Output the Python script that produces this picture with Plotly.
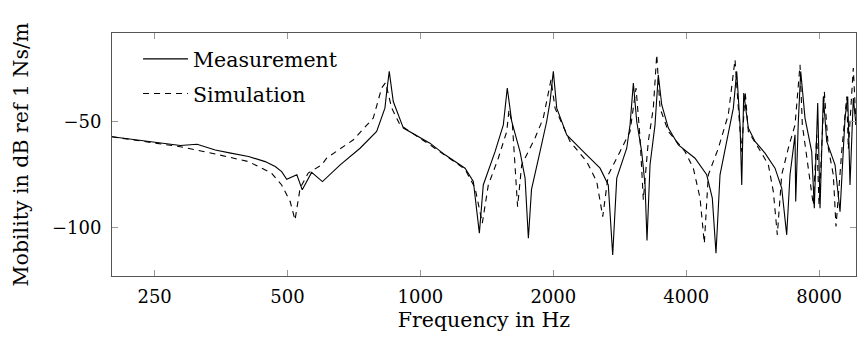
import plotly.graph_objects as go
import math

# Measurement (frequency in Hz, mobility in dB)
meas_f = [200, 232, 286, 312, 343, 372, 408, 445, 469, 485, 498, 525, 540, 567, 600, 658, 730, 796, 831, 839, 850,
          868, 915, 1051, 1137, 1262, 1318, 1360, 1388, 1476, 1541, 1573, 1610, 1681, 1726, 1756,
          1785, 1866, 1932, 1966, 2000, 2036, 2145, 2339, 2552, 2664, 2726, 2784, 2933, 2984, 3036, 3090,
          3171, 3227, 3260, 3312, 3399, 3458, 3520, 3644, 3839, 4188, 4451, 4583, 4672, 4771, 4941,
          5114, 5205, 5296, 5343, 5399, 5530, 5727, 6033, 6356, 6582, 6755, 6873, 6993, 7055, 7080,
          7177, 7267, 7432, 7696, 7801, 7941, 8037, 8177, 8323, 8691, 8921, 9156, 9286, 9398, 9561, 9696]
meas_db = [-57.2, -58.9, -61.3, -60.7, -63.4, -64.9, -66.5, -68.9, -71.2, -73.6, -77.2, -75.1, -82.2, -74.0, -78.3,
           -70.4, -62.6, -54.7, -43.7, -35.8, -26.4, -40.6, -53.1, -60.2, -65.7, -72.0, -78.3, -102.6, -79.9,
           -64.2, -51.6, -34.2, -50.0, -64.2, -76.7, -105.0, -82.0, -64.2, -50.0, -40.6, -26.4, -43.7, -56.3,
           -64.2, -72.0, -79.9, -112.9, -76.7, -62.6, -51.6, -31.9, -50.0, -64.2, -79.9, -106.1, -70.4,
           -51.6, -28.0, -42.1, -53.1, -61.0, -67.3, -75.1, -86.1, -112.1, -75.1, -59.4, -43.7, -26.4,
           -51.6, -79.9, -36.6, -53.1, -59.4, -64.9, -72.0, -81.4, -103.4, -75.1, -61.0, -56.3, -87.7,
           -50.0, -26.4, -48.4, -64.2, -90.9, -41.3, -90.9, -38.2, -59.4, -70.4, -92.5, -48.4, -38.2,
           -79.9, -39.0, -51.6]

# Simulation
sim_f = [200, 286, 343, 408, 460, 485, 507, 520, 534, 557, 598, 613, 705, 782, 817, 834, 861, 899,
         1051, 1137, 1262, 1330, 1381, 1425, 1501, 1569, 1587, 1616, 1638, 1660, 1696, 1818, 1898,
         1948, 1976, 2018, 2182, 2381, 2508, 2588, 2664, 2832, 2984, 3079, 3144, 3198, 3282, 3369,
         3430, 3489, 3644, 3976, 4151, 4299, 4396, 4489, 4729, 4982, 5159, 5249, 5343, 5439, 5530,
         5838, 6139, 6300, 6433, 6582, 6812, 7055, 7241, 7329, 7761, 7900, 7996, 8219, 8393, 8614,
         8736, 9000, 9239, 9316, 9561, 9696]
sim_db = [-57.2, -61.9, -65.3, -68.9, -74.3, -79.9, -87.7, -96.4, -81.4, -74.3, -70.4, -67.3, -58.6,
          -48.4, -34.2, -31.7, -43.7, -51.6, -61.0, -66.0, -72.5, -81.4, -97.9, -79.9, -67.3, -54.7,
          -44.5, -51.6, -70.4, -90.1, -70.4, -57.8, -48.4, -35.8, -30.3, -43.7, -59.4, -68.9, -78.3,
          -94.8, -75.1, -64.2, -54.7, -34.2, -57.8, -86.9, -59.4, -43.7, -18.5, -43.7, -54.7, -64.2,
          -72.0, -86.1, -107.4, -75.1, -62.6, -46.8, -20.9, -43.7, -64.2, -35.8, -54.7, -62.6, -70.4,
          -83.0, -103.4, -75.1, -62.6, -51.6, -23.3, -51.6, -89.3, -56.3, -89.3, -35.8, -62.6, -75.1,
          -99.5, -64.2, -38.2, -63.0, -24.8, -51.6]

x_ticks = [250, 500, 1000, 2000, 4000, 8000]
y_ticks = [-50, -100]

FONT = "DejaVu Serif"

fig = go.Figure()
fig.add_trace(go.Scatter(x=meas_f, y=meas_db, mode="lines", name="Measurement", legendgroup="a",
                         line=dict(color="black", width=1.1)))
fig.add_trace(go.Scatter(x=sim_f, y=sim_db, mode="lines", name="Simulation", legendgroup="b",
                         line=dict(color="black", width=1.1, dash="6px,5px")))

axis_common = dict(showline=True, linecolor="#555555", linewidth=1, mirror="ticks",
                   ticks="inside", ticklen=6, tickcolor="#999999", showgrid=False,
                   zeroline=False, tickfont=dict(family=FONT, size=18, color="black"))

fig.update_xaxes(type="log", range=[math.log10(200.2), math.log10(9696)],
                 tickvals=x_ticks, ticktext=[str(v) for v in x_ticks],
                 title=dict(text="Frequency in Hz", font=dict(family=FONT, size=20.5, color="black"),
                            standoff=7),
                 ticklabelstandoff=4, **axis_common)
fig.update_yaxes(range=[-122.8, -8.3], tickvals=y_ticks,
                 title=dict(text="Mobility in dB ref 1 Ns/m", font=dict(family=FONT, size=20.5, color="black"),
                            standoff=17),
                 ticklabelstandoff=6, **axis_common)

fig.update_layout(width=857, height=343, margin=dict(l=112, r=1, t=33, b=67),
                  paper_bgcolor="white", plot_bgcolor="white", showlegend=True,
                  legend=dict(x=0.035, y=0.975, xanchor="left", yanchor="top", bgcolor="rgba(0,0,0,0)",
                              font=dict(family=FONT, size=20.5, color="black"), itemwidth=45,
                              traceorder="grouped", tracegroupgap=5))

fig.write_html("out.html")
